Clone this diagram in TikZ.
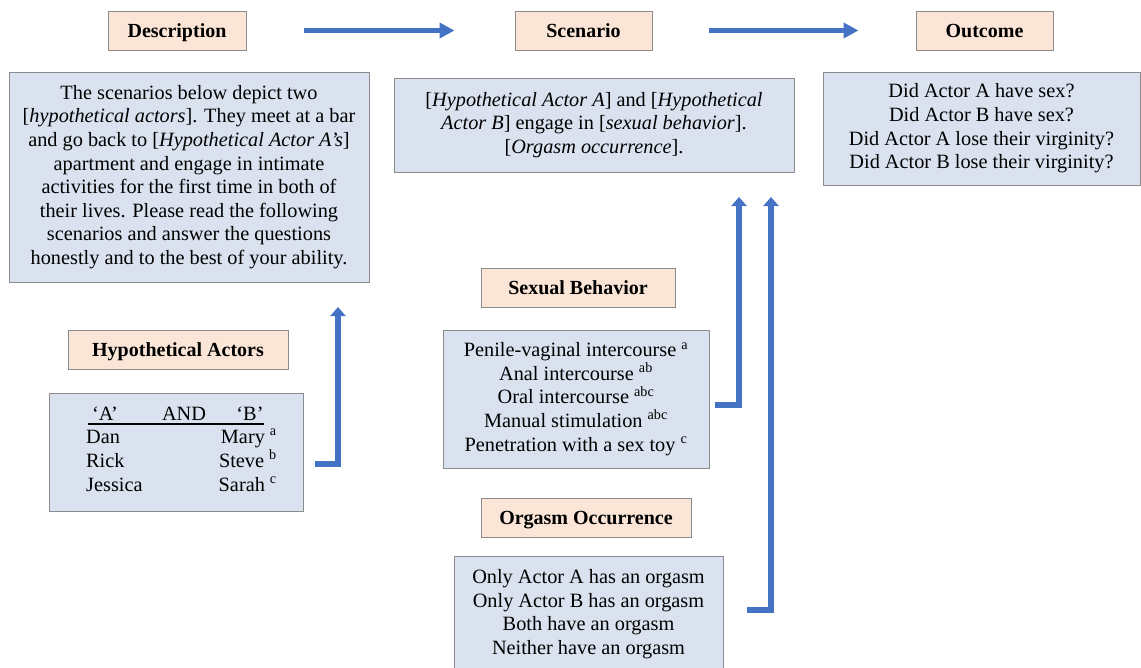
\documentclass[tikz,border=0pt]{standalone}
\usepackage{fontspec}
\setmainfont{Liberation Serif}
\usetikzlibrary{arrows.meta,calc}
\definecolor{peach}{HTML}{FBE5D6}
\definecolor{bluebox}{HTML}{DAE2EF}
\definecolor{edge}{HTML}{8C8C8C}
\definecolor{arrowblue}{HTML}{4472C4}
\tikzset{
  head/.style={draw=edge,line width=1pt,fill=peach,minimum height=39pt,inner sep=0pt,
    text height=13.3pt,text depth=0pt,
    font=\fontsize{20}{23}\selectfont\bfseries},
  body/.style={draw=edge,line width=1pt,fill=bluebox,inner sep=0pt,align=center,
    font=\fontsize{20.3}{23.6}\selectfont},
  txt/.style={inner sep=0pt,font=\fontsize{20.3}{23.6}\selectfont},
  flow/.style={draw=arrowblue,line width=5pt,-{Triangle[width=15pt,length=15pt]}},
  conn/.style={draw=arrowblue,line width=5.5pt,-{Triangle[width=15pt,length=9pt]}},
}
\begin{document}
\begin{tikzpicture}[x=1pt,y=-1pt]
\useasboundingbox (0,0) rectangle (1141,667);
\begin{scope}
\clip (0,0) rectangle (1141,667);
% headers
\node[head,minimum width=138pt] (dh) at (177,30.5) {Description};
\node[head,minimum width=137pt] (sh) at (583.5,30.5) {Scenario};
\node[head,minimum width=137pt] (oh) at (984.5,30.5) {Outcome};
\node[head,minimum width=220pt] (ah) at (178,349.5) {Hypothetical Actors};
\node[head,minimum width=194pt] (bh) at (578,287.5) {Sexual Behavior};
\node[head,minimum width=210pt] (gh) at (586,517.5) {Orgasm Occurrence};
% bodies
\node[body,minimum width=360pt,minimum height=210pt] (db) at (189,177)
 {The scenarios below depict two\\
  {[}\textit{hypothetical actors}]. They meet at a bar\\
  and go back to [\textit{Hypothetical Actor A’s}]\\
  apartment and engage in intimate\\
  activities for the first time in both of\\
  their lives. Please read the following\\
  scenarios and answer the questions\\
  honestly and to the best of your ability.};
\node[body,minimum width=400pt,minimum height=94pt] (sb) at (594,125)
 {[\textit{Hypothetical Actor A}] and [\textit{Hypothetical}\\
  \textit{Actor B}] engage in [\textit{sexual behavior}].\\
  {[}\textit{Orgasm occurrence}].};
\node[body,minimum width=317pt,minimum height=113pt] (ob) at (981.5,128.5)
 {Did Actor A have sex?\\
  Did Actor B have sex?\\
  Did Actor A lose their virginity?\\
  Did Actor B lose their virginity?};
\node[body,minimum width=266pt,minimum height=138pt] (bb) at (576,399)
 {Penile-vaginal intercourse \textsuperscript{a}\\
  Anal intercourse \textsuperscript{ab}\\
  Oral intercourse \textsuperscript{abc}\\
  Manual stimulation \textsuperscript{abc}\\
  Penetration with a sex toy \textsuperscript{c}};
\node[body,minimum width=269pt,minimum height=116pt] (gb) at (588.5,614)
 {Only Actor A has an orgasm\\
  Only Actor B has an orgasm\\
  Both have an orgasm\\
  Neither have an orgasm};
\node[body,minimum width=254pt,minimum height=118pt] (ab) at (176,452) {};
\end{scope}
% actors table
\node[txt,anchor=base] (ta) at (105,420) {‘A’};
\node[txt,anchor=base] (tand) at (184,420) {AND};
\node[txt,anchor=base] (tb) at (250,420) {‘B’};
\draw[line width=1.2pt] (88,424) -- (264,424);
\node[txt,anchor=base west] (n1) at (86,443) {Dan};
\node[txt,anchor=base west] (n2) at (86,467) {Rick};
\node[txt,anchor=base west] (n3) at (86,491) {Jessica};
\node[txt,anchor=base east] (m1) at (277,443) {Mary \textsuperscript{a}};
\node[txt,anchor=base east] (m2) at (277,467) {Steve \textsuperscript{b}};
\node[txt,anchor=base east] (m3) at (277,491) {Sarah \textsuperscript{c}};
% flow arrows
\draw[flow,shorten <=57pt,shorten >=60pt] (dh.east) -- (sh.west);
\draw[flow,shorten <=56pt,shorten >=57pt] (sh.east) -- (oh.west);
% connectors
\coordinate (c1) at (315,464);
\coordinate (t1) at (338,307);
\draw[conn] (c1) -| (t1);
\coordinate (c2) at (715,405);
\coordinate (t2) at (739,197);
\draw[conn] (c2) -| (t2);
\coordinate (c3) at (747,610);
\coordinate (t3) at (771,197);
\draw[conn] (c3) -| (t3);
\end{tikzpicture}
\end{document}
